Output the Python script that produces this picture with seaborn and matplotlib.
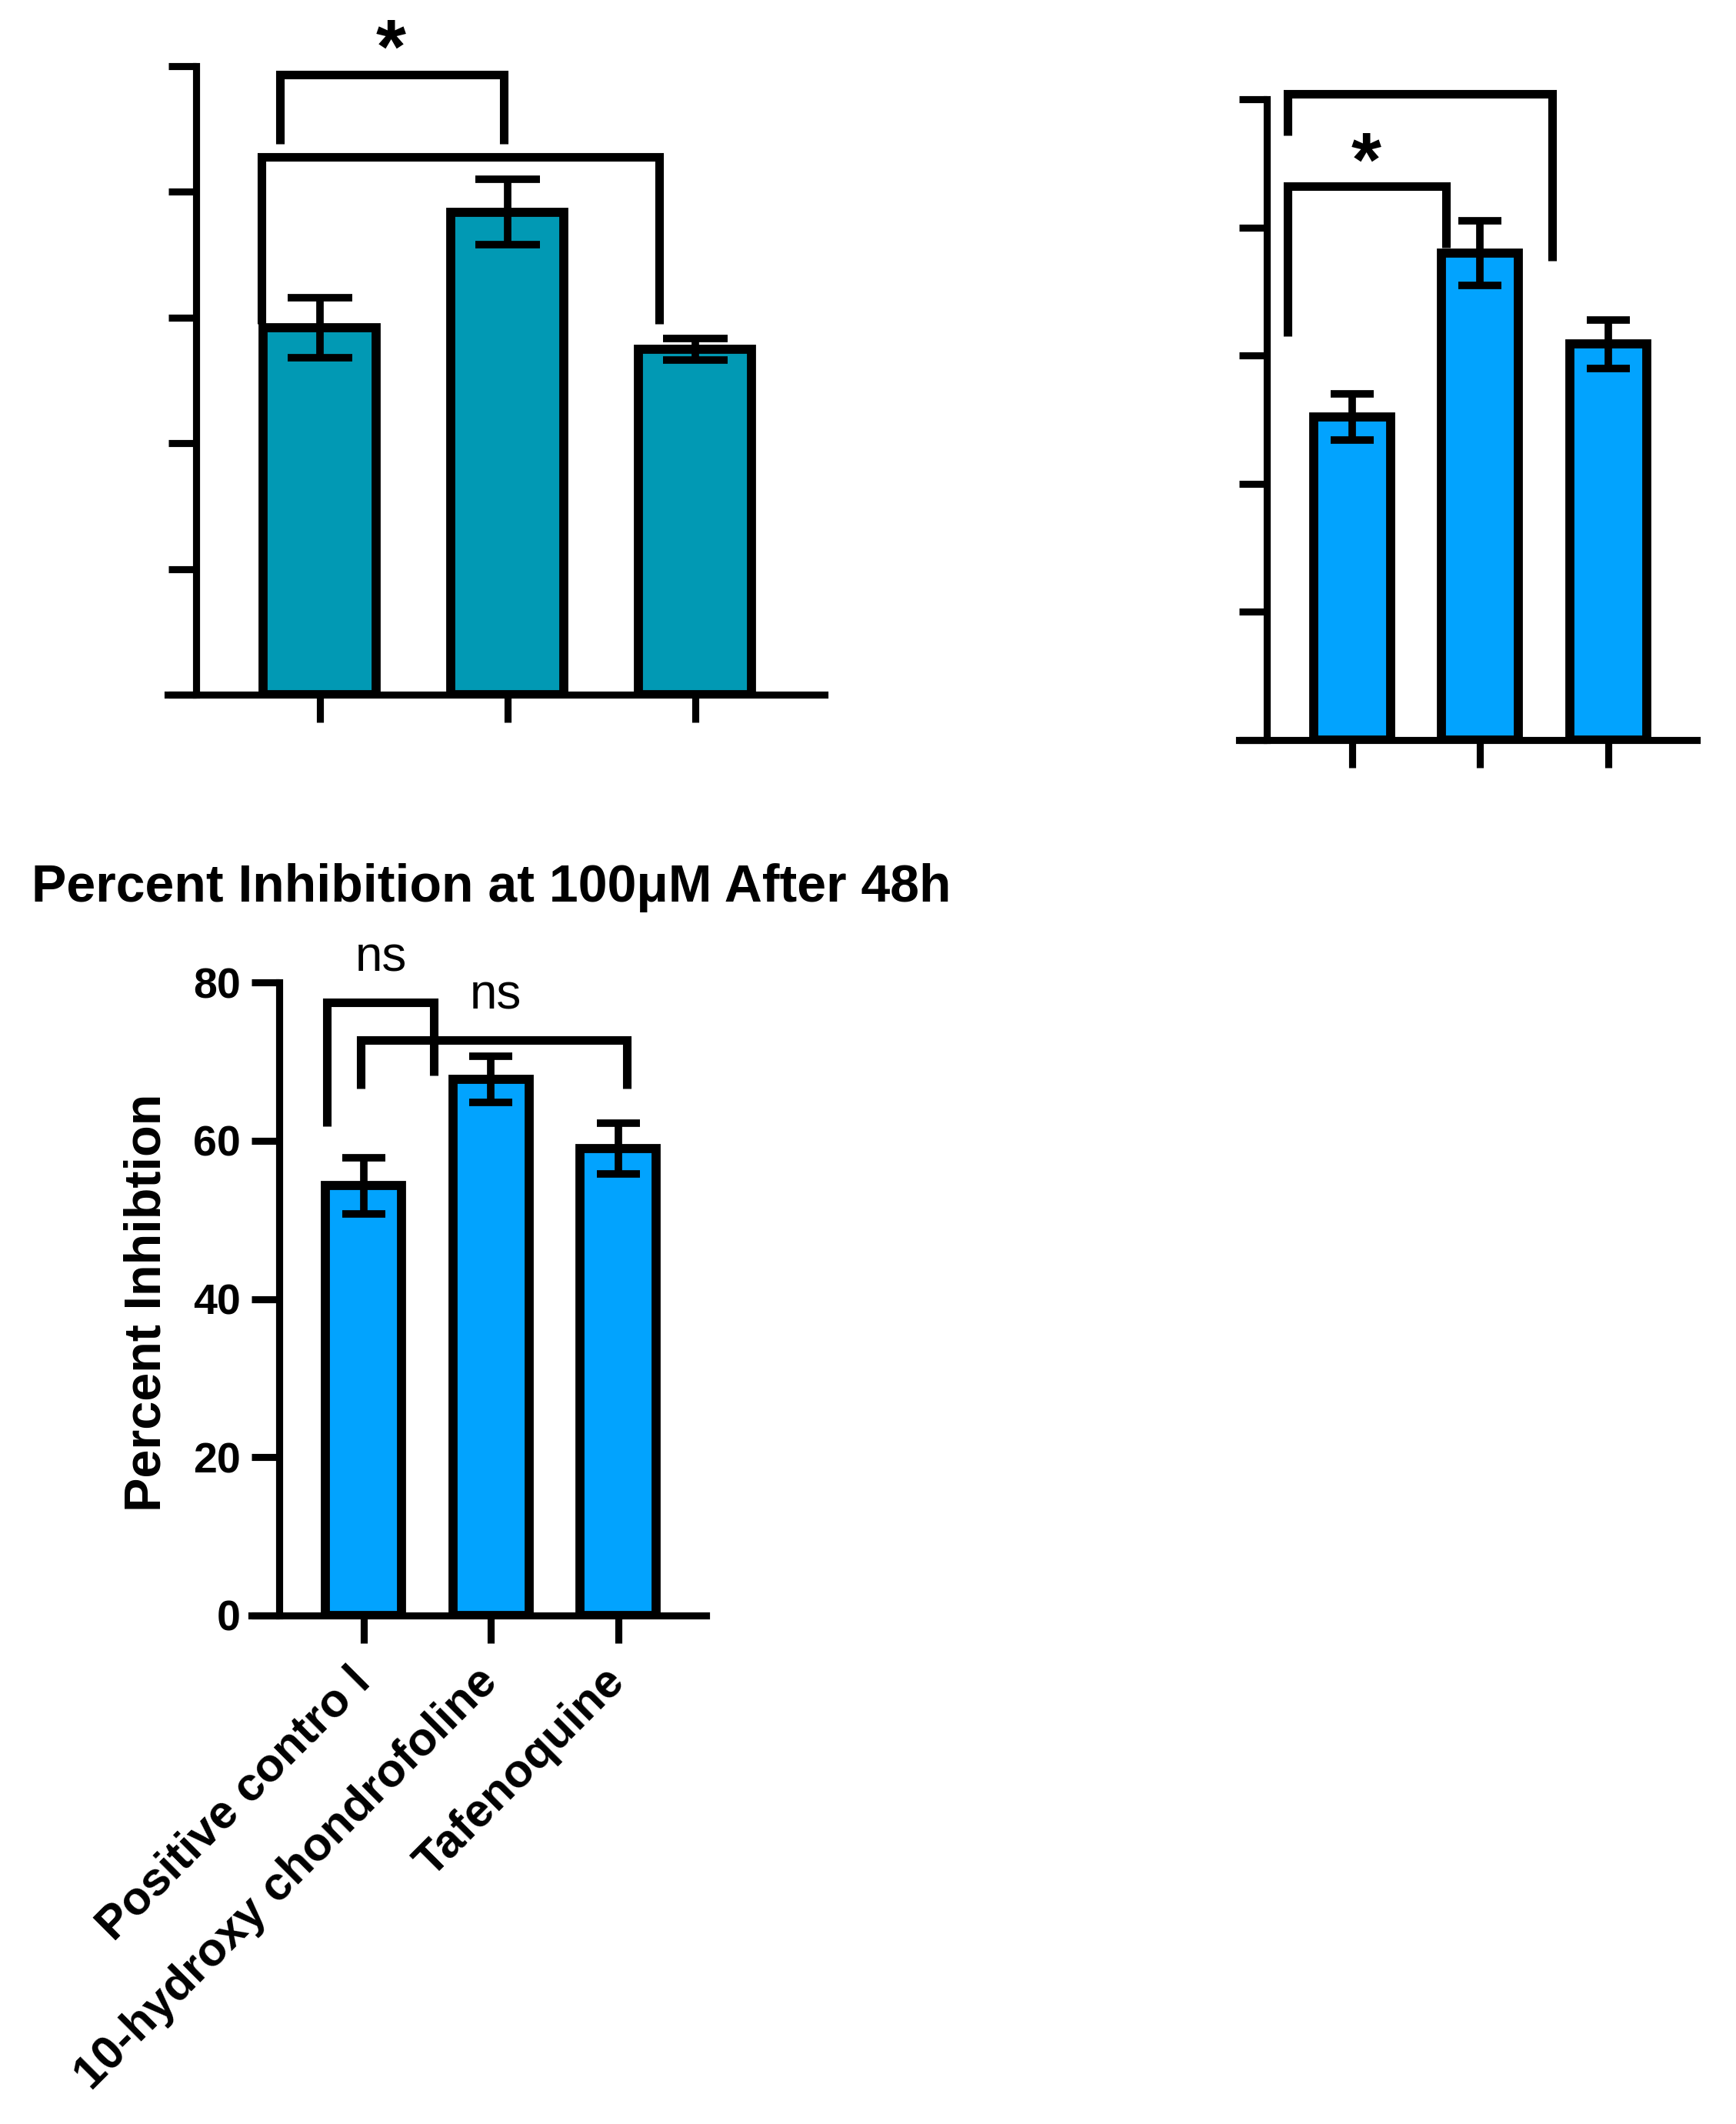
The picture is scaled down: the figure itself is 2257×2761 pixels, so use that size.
import matplotlib
matplotlib.use("Agg")
import matplotlib.pyplot as plt
import seaborn as sns
import pandas as pd

# categories (same three treatments in every panel)
groups = ["Positive contro l", "10-hydroxy chondrofoline", "Tafenoquine"]

# top-left panel, axis had no numbers -> 0..5 arbitrary units
top_left_mean = [2.92, 3.84, 2.75]
top_left_err = [0.24, 0.26, 0.085]

# top-right panel, also unlabeled
top_right_mean = [2.52, 3.80, 3.09]
top_right_err = [0.18, 0.25, 0.19]
blank_ticks = [0, 1, 2, 3, 4, 5]

# bottom panel: percent inhibition at 100uM after 48h
inhib_mean = [54.3, 67.75, 59.0]
inhib_err = [3.55, 2.95, 3.2]
inhib_ticks = [0, 20, 40, 60, 80]

TEAL = "#0199B4"
BLUE = "#02A3FE"

W, H = 2257, 2761
AX_LW = 6.6

plt.rcParams["font.family"] = ["Liberation Sans", "DejaVu Sans"]


def px_axes(fig, x0, x1, ytop, ybot):
    return fig.add_axes([x0 / W, 1 - ybot / H, (x1 - x0) / W, (ybot - ytop) / H])


def draw_bars(ax, means, errs, color, xlim, ylim, yticks, spine_x, capsize):
    df = pd.DataFrame({"group": groups, "value": means})
    sns.barplot(data=df, x="group", y="value", color=color, width=0.6,
                saturation=1, edgecolor="black", linewidth=8.5,
                errorbar=None, ax=ax)
    ax.errorbar(range(len(means)), means, yerr=errs, fmt="none",
                ecolor="black", elinewidth=7, capsize=capsize, capthick=7,
                zorder=5)
    ax.set_xlim(*xlim)
    ax.set_ylim(*ylim)
    ax.set_yticks(yticks)
    ax.set_xlabel("")
    ax.set_ylabel("")
    for s in ["top", "right"]:
        ax.spines[s].set_visible(False)
    ax.spines["left"].set_position(("data", spine_x))
    ax.spines["left"].set_linewidth(AX_LW)
    ax.spines["bottom"].set_linewidth(AX_LW)
    ax.spines["left"].set_capstyle("projecting")
    ax.tick_params(axis="both", direction="out", length=26, width=AX_LW,
                   color="black")
    ax.patch.set_alpha(0)


def bracket(ax, x0, x1, y, y_left, y_right):
    ax.plot([x0, x0, x1, x1], [y_left, y, y, y_right], color="black",
            lw=8, solid_joinstyle="miter", solid_capstyle="butt",
            clip_on=False, zorder=6)


def star(ax, x, y, fs=72):
    ax.annotate("*", (x, y), xytext=(0, -0.56 * fs), textcoords="offset points",
                ha="center", va="baseline", fontsize=fs, fontweight="bold",
                annotation_clip=False)


fig = plt.figure(figsize=(W / 100, H / 100), dpi=100)

# top-left
ax1 = px_axes(fig, 218, 1072, 86, 903)
draw_bars(ax1, top_left_mean, top_left_err, TEAL, (-0.81, 2.69), (0, 5),
          blank_ticks, -0.66, 30)
ax1.tick_params(labelleft=False, labelbottom=False)
bracket(ax1, -0.21, 0.98, 4.93, 4.38, 4.38)
bracket(ax1, -0.31, 1.81, 4.28, 2.95, 2.95)
star(ax1, 0.38, 5.29)

# top-right
ax2 = px_axes(fig, 1611, 2206, 129, 962)
draw_bars(ax2, top_right_mean, top_right_err, BLUE, (-0.88, 2.69), (0, 5),
          blank_ticks, -0.665, 20.5)
ax2.tick_params(labelleft=False, labelbottom=False)
bracket(ax2, -0.5, 1.56, 5.04, 4.72, 3.74)
bracket(ax2, -0.5, 0.735, 4.32, 3.15, 3.84)
star(ax2, 0.11, 4.66)

# bottom
ax3 = px_axes(fig, 327, 918, 1277, 2100)
draw_bars(ax3, inhib_mean, inhib_err, BLUE, (-0.88, 2.69), (0, 80),
          inhib_ticks, -0.665, 20.5)
ax3.tick_params(axis="y", pad=10, labelsize=40)
ax3.tick_params(axis="x", pad=30)
for t in ax3.get_yticklabels():
    t.set_fontweight("bold")
ax3.set_xticks(range(len(groups)))
ax3.set_xticklabels(groups, rotation=45, ha="right", va="center",
                    rotation_mode="anchor", fontsize=44, fontweight="bold")
bracket(ax3, -0.29, 0.55, 77.5, 61.8, 68.2)
bracket(ax3, -0.02, 2.07, 72.7, 66.6, 66.6)
ax3.text(0.14, 81.4, "ns", ha="center", va="baseline", fontsize=46)
ax3.text(1.04, 76.6, "ns", ha="center", va="baseline", fontsize=46)

fig.text(639 / W, 1 - 1172 / H, "Percent Inhibition at 100μM After 48h",
         ha="center", va="baseline", fontsize=49, fontweight="bold")
fig.text(192 / W, 1 - 1693 / H, "Percent Inhibtion", rotation=90,
         ha="center", va="center", fontsize=48, fontweight="bold")

fig.savefig("out.png", dpi=100)
